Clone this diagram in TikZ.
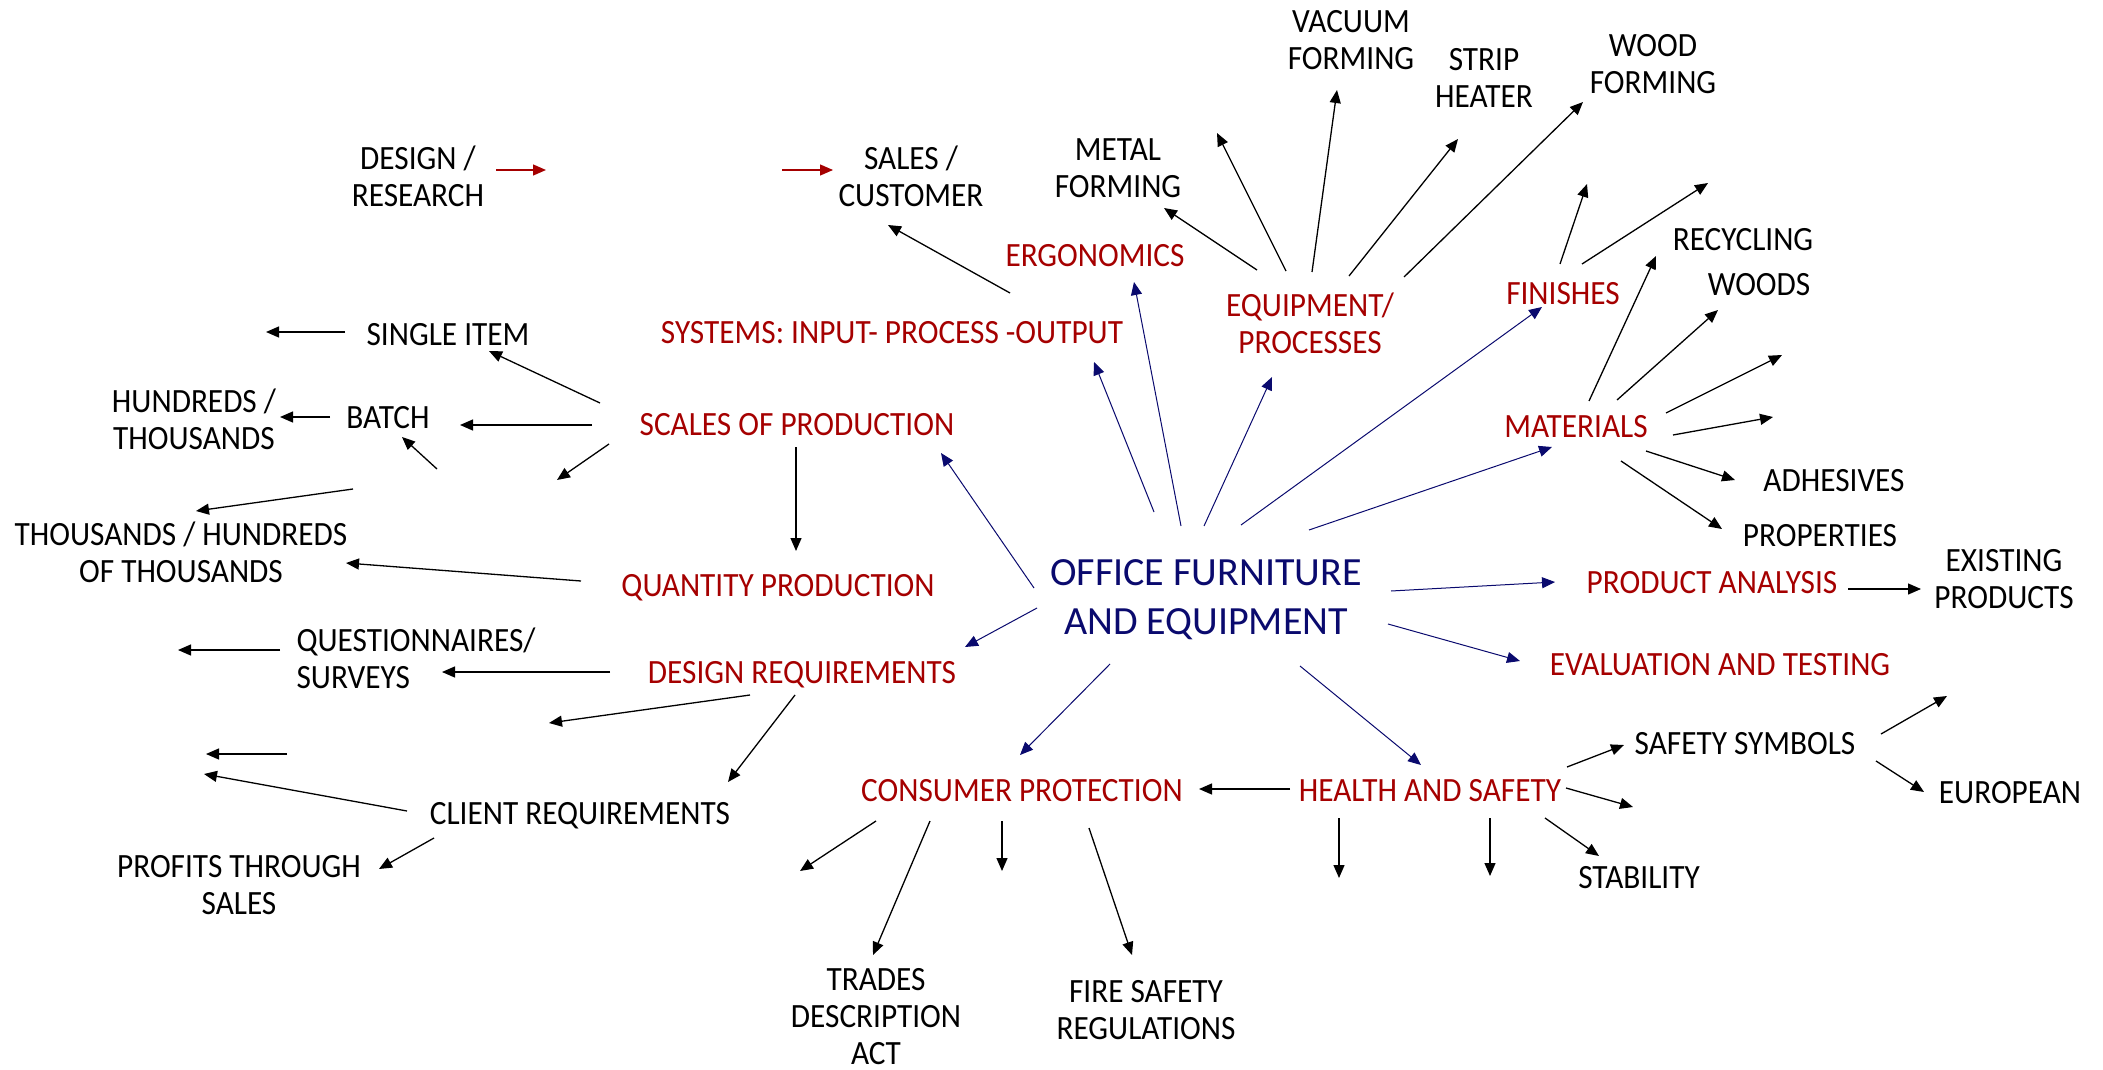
\documentclass[tikz,border=0pt]{standalone}
\usepackage{fontspec}
\setmainfont{Carlito}
\newfontfamily\mapfont{Carlito}[FakeStretch=0.92]
\usepackage{tikz}
\usetikzlibrary{arrows.meta,calc}
\definecolor{mapred}{RGB}{165,0,0}
\definecolor{mapblue}{RGB}{10,10,110}

\begin{document}
\begin{tikzpicture}[x=1pt,y=-1pt,
		every node/.style={inner sep=0pt, text depth=0pt, align=center, font=\mapfont\fontsize{34}{37}\selectfont},
		topic/.style={text=mapred},
		arr/.style={-{Triangle[length=13pt,width=11pt]}, line width=1.3pt},
		hub/.style={arr, color=mapblue, line width=1pt},
		flow/.style={arr, color=mapred}]
				%\draw[help lines] (0,0) grid (2103,1070);
				\useasboundingbox (0,0) rectangle (2103,1070);
				
				% centre
				\node[text=mapblue, font=\rmfamily\fontsize{40}{49}\selectfont] (ofe) at (1206,597) {OFFICE FURNITURE\\AND EQUIPMENT};
				
				% topics
				\node[topic] (sys) at (892,332) {SYSTEMS: INPUT- PROCESS -OUTPUT};
				\node[topic] (erg) at (1095,255) {ERGONOMICS};
				\node[topic] (equ) at (1310,323) {EQUIPMENT/\\PROCESSES};
				\node[topic] (fin) at (1563,293) {FINISHES};
				\node[topic] (mat) at (1576,426) {MATERIALS};
				\node[topic] (ana) at (1712,582) {PRODUCT ANALYSIS};
				\node[topic] (eva) at (1720,664) {EVALUATION AND TESTING};
				\node[topic] (hea) at (1430,790) {HEALTH AND SAFETY};
				\node[topic] (con) at (1022,790) {CONSUMER PROTECTION};
				\node[topic] (dre) at (802,672) {DESIGN REQUIREMENTS};
				\node[topic] (qua) at (778,585) {QUANTITY PRODUCTION};
				\node[topic] (sca) at (797,424) {SCALES OF PRODUCTION};
				
				% leaves
				\node (des) at (418,176) {DESIGN /\\RESEARCH};
				\node (sal) at (911,176) {SALES /\\CUSTOMER};
				\node (met) at (1118,168) {METAL\\FORMING};
				\node (vac) at (1351,40) {VACUUM\\FORMING};
				\node (str) at (1484,78) {STRIP\\HEATER};
				\node (woo) at (1653,64) {WOOD\\FORMING};
				\node (rec) at (1743,239) {RECYCLING};
				\node (wds) at (1759,284) {WOODS};
				\node (adh) at (1834,480) {ADHESIVES};
				\node (pro) at (1820,535) {PROPERTIES};
				\node (exi) at (2004,579) {EXISTING\\PRODUCTS};
				\node (saf) at (1745,743) {SAFETY SYMBOLS};
				\node (eur) at (2010,792) {EUROPEAN};
				\node (sta) at (1639,877) {STABILITY};
				\node (tra) at (876,1016) {TRADES\\DESCRIPTION\\ACT};
				\node (fir) at (1146,1010) {FIRE SAFETY\\REGULATIONS};
				\node (sin) at (448,334) {SINGLE ITEM};
				\node (bat) at (388,417) {BATCH};
				\node (hun) at (194,419) {HUNDREDS /\\THOUSANDS};
				\node (tho) at (181,552) {THOUSANDS / HUNDREDS\\OF THOUSANDS};
				\node[align=left] (que) at (416,658) {QUESTIONNAIRES/\\SURVEYS};
				\node (cli) at (580,813) {CLIENT REQUIREMENTS};
				\node (prf) at (239,885) {PROFITS THROUGH\\SALES};
				
				% loose ends
				\coordinate (e1) at (546,170);
				\coordinate (e2) at (782,170);
				\coordinate (e3) at (266,332);
				\coordinate (e4) at (557,480);
				\coordinate (e5) at (437,469);
				\coordinate (e6) at (353,489);
				\coordinate (e7) at (178,650);
				\coordinate (e8) at (549,723);
				\coordinate (e9) at (287,754);
				\coordinate (e10) at (206,754);
				\coordinate (e11) at (204,774);
				\coordinate (e12) at (800,871);
				\coordinate (e13) at (1002,871);
				\coordinate (e14) at (1633,807);
				\coordinate (e15) at (1490,876);
				\coordinate (e16) at (1339,878);
				\coordinate (e17) at (1947,696);
				\coordinate (e18) at (1217,133);
				\coordinate (e19) at (1587,184);
				\coordinate (e20) at (1708,183);
				\coordinate (e21) at (1782,355);
				\coordinate (e22) at (1773,417);
				
				% red flow
				\draw[flow] ($(des)+(78,-6)$) -- (e1);
				\draw[flow] (e2) -- ($(sal)+(-78,-6)$);
				
				% from the centre
				\draw[hub] ($(ofe)+(-172,-9)$) -- ($(sca)+(144,29)$);
				\draw[hub] ($(ofe)+(-52,-85)$) -- ($(sys)+(202,30)$);
				\draw[hub] ($(ofe)+(-25,-71)$) -- ($(erg)+(39,27)$);
				\draw[hub] ($(ofe)+(-2,-71)$) -- ($(equ)+(-38,54)$);
				\draw[hub] ($(ofe)+(35,-72)$) -- ($(fin)+(-21,14)$);
				\draw[hub] ($(ofe)+(103,-67)$) -- ($(mat)+(-24,21)$);
				\draw[hub] ($(ofe)+(185,-6)$) -- ($(ana)+(-157,0)$);
				\draw[hub] ($(ofe)+(182,27)$) -- ($(eva)+(-200,-3)$);
				\draw[hub] ($(ofe)+(94,69)$) -- ($(hea)+(-9,-25)$);
				\draw[hub] ($(ofe)+(-96,67)$) -- ($(con)+(-2,-35)$);
				\draw[hub] ($(ofe)+(-169,11)$) -- ($(dre)+(163,-25)$);
				
				% upper half
				\draw[arr] ($(sys)+(118,-39)$) -- ($(sal)+(-23,49)$);
				\draw[arr] ($(equ)+(-53,-53)$) -- ($(met)+(46,40)$);
				\draw[arr] ($(equ)+(-24,-52)$) -- (e18);
				\draw[arr] ($(equ)+(2,-51)$) -- ($(vac)+(-14,50)$);
				\draw[arr] ($(equ)+(39,-47)$) -- ($(str)+(-26,61)$);
				\draw[arr] ($(equ)+(94,-46)$) -- ($(woo)+(-70,38)$);
				\draw[arr] ($(fin)+(-3,-29)$) -- (e19);
				\draw[arr] ($(fin)+(19,-29)$) -- (e20);
				\draw[arr] ($(mat)+(13,-25)$) -- ($(rec)+(-87,17)$);
				\draw[arr] ($(mat)+(41,-26)$) -- ($(wds)+(-41,26)$);
				\draw[arr] ($(mat)+(90,-13)$) -- (e21);
				\draw[arr] ($(mat)+(97,9)$) -- (e22);
				\draw[arr] ($(mat)+(70,25)$) -- ($(adh)+(-99,0)$);
				\draw[arr] ($(mat)+(45,35)$) -- ($(pro)+(-98,-6)$);
				\draw[arr] ($(ana)+(136,7)$) -- ($(exi)+(-83,10)$);
				
				% left side
				\draw[arr] ($(sin)+(-103,-2)$) -- (e3);
				\draw[arr] ($(sca)+(-197,-21)$) -- ($(sin)+(41,17)$);
				\draw[arr] ($(bat)+(-58,0)$) -- ($(hun)+(86,-2)$);
				\draw[arr] ($(sca)+(-205,1)$) -- ($(bat)+(72,8)$);
				\draw[arr] ($(sca)+(-188,20)$) -- (e4);
				\draw[arr] (e5) -- ($(bat)+(14,20)$);
				\draw[arr] (e6) -- ($(tho)+(15,-41)$);
				\draw[arr] ($(sca)+(-1,23)$) -- ($(qua)+(18,-34)$);
				\draw[arr] ($(qua)+(-197,-4)$) -- ($(tho)+(165,11)$);
				\draw[arr] ($(que)+(-136,-8)$) -- (e7);
				\draw[arr] ($(dre)+(-192,0)$) -- ($(que)+(26,14)$);
				\draw[arr] ($(dre)+(-52,23)$) -- (e8);
				\draw[arr] ($(dre)+(-7,23)$) -- ($(cli)+(148,-31)$);
				\draw[arr] (e9) -- (e10);
				\draw[arr] ($(cli)+(-173,-2)$) -- (e11);
				\draw[arr] ($(cli)+(-146,25)$) -- ($(prf)+(140,-16)$);
				
				% lower half
				\draw[arr] ($(con)+(-146,31)$) -- (e12);
				\draw[arr] ($(con)+(-92,31)$) -- ($(tra)+(-3,-61)$);
				\draw[arr] ($(con)+(-20,31)$) -- (e13);
				\draw[arr] ($(con)+(67,38)$) -- ($(fir)+(-14,-55)$);
				\draw[arr] ($(hea)+(-140,-1)$) -- ($(con)+(177,-1)$);
				\draw[arr] ($(hea)+(137,-23)$) -- ($(saf)+(-121,2)$);
				\draw[arr] ($(hea)+(136,-2)$) -- (e14);
				\draw[arr] ($(hea)+(115,28)$) -- ($(sta)+(-40,-21)$);
				\draw[arr] ($(hea)+(60,28)$) -- (e15);
				\draw[arr] ($(hea)+(-91,28)$) -- (e16);
				\draw[arr] ($(saf)+(136,-9)$) -- (e17);
				\draw[arr] ($(saf)+(131,18)$) -- ($(eur)+(-86,0)$);
			\end{tikzpicture}
\end{document}
